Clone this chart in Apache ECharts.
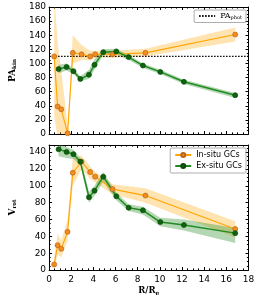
<!DOCTYPE html>
<html><head><meta charset="utf-8">
<script src="https://cdn.jsdelivr.net/npm/echarts@6/dist/echarts.min.js"></script>
<style>html,body{margin:0;padding:0;background:#fff}#c{width:258px;height:297px}</style>
</head><body><div id="c"></div>
<script>
// ---- data ----
const xIn = [0.46, 0.77, 1.1, 1.67, 2.14, 2.93, 3.71, 4.16, 5.73, 8.7, 16.8];
const paIn = [110, 39, 35, 1, 115, 113, 110, 113, 113, 115, 141];
const paInLo = [25, -5, -8, -5, 100, 105, 104, 108, 108, 110, 131];
const paInHi = [200, 130, 90, 12, 140, 126, 118, 118, 118, 121, 151];

const xEx = [0.86, 1.58, 2.2, 2.82, 3.6, 4.1, 4.89, 6.07, 7.18, 8.47, 10.04, 12.17, 16.8];
const paEx = [92, 95, 89, 78, 84, 98, 116, 117, 109, 97, 88, 74, 55];
const paExLo = [86, 90, 85, 75, 78, 91, 112, 113, 105, 94, 85, 71, 51];
const paExHi = [98, 100, 93, 82, 91, 106, 120, 121, 112, 100, 91, 77, 58];

const vIn = [6.6, 29.5, 25.2, 45.3, 115.5, 128.7, 116.3, 110.9, 96.1, 88.4, 48.8];
const vInLo = [0, 18, 15, 35, 100, 120, 108, 104, 90, 80, 39];
const vInHi = [15, 43, 35, 60, 133, 136, 123, 117, 102, 97, 58];

const vEx = [143.4, 140.3, 137.6, 128.7, 86.4, 94.2, 110.9, 87.6, 74, 70.9, 57, 53.5, 43.8];
const vExLo = [135, 133, 132, 125, 80, 88, 105, 83, 70, 66, 52, 47, 32];
const vExHi = [150, 146, 143, 133, 93, 100, 116, 92, 78, 75, 62, 60, 50];

const paPhot = 110;
const xRange = [0, 18];
const paRange = [0, 180];
const vRange = [0, 148.5];

// ---- helpers ----
const pairs = (xs, ys) => xs.map((x, i) => [x, ys[i]]);
const ORANGE = '#FFA500', GREEN = '#228B22';
const FONT = 'DejaVu Sans';

function band(name, g, xs, lo, hi, color) {
  return {
    name: name, type: 'custom', xAxisIndex: g * 2, yAxisIndex: g * 2, clip: true, silent: true, z: 1,
    data: xs.map((x, i) => [x, lo[i], hi[i]]),
    encode: { x: 0, y: [1, 2] },
    renderItem: function (params, api) {
      if (params.dataIndexInside !== 0) return null;
      const n = params.dataInsideLength;
      const up = [], dn = [];
      for (let i = 0; i < n; i++) {
        const x = api.value(0, i);
        up.push(api.coord([x, api.value(2, i)]));
        dn.push(api.coord([x, api.value(1, i)]));
      }
      const cs = params.coordSys;
      return {
        type: 'polygon',
        shape: { points: up.concat(dn.reverse()) },
        style: { fill: color, stroke: null },
        clipPath: { type: 'rect', shape: { x: cs.x, y: cs.y, width: cs.width, height: cs.height } }
      };
    }
  };
}
function line(name, g, xs, ys, color, mcolor, mborder, w) {
  return { name: name, type: 'line', xAxisIndex: g * 2, yAxisIndex: g * 2, data: pairs(xs, ys),
    symbol: 'circle', symbolSize: 5, lineStyle: { color: color, width: w },
    itemStyle: { color: mcolor, borderColor: mborder, borderWidth: 0.7 }, z: 3 };
}
function xAx(g, pos, labels) {
  return { type: 'value', gridIndex: g, position: pos, min: xRange[0], max: xRange[1], interval: 2,
    axisLine: { lineStyle: { color: '#000', width: 1 }, onZero: false },
    axisTick: { inside: true, length: 3, lineStyle: { color: '#000' } },
    minorTick: { show: true, splitNumber: 4, length: 1.6, lineStyle: { color: '#000' } },
    splitLine: { show: false },
    axisLabel: { show: labels, color: '#000', fontFamily: FONT, fontSize: 9, margin: 5 },
    name: labels ? '{b|R/R}{s|e}' : '', nameLocation: 'middle', nameGap: 15,
    nameTextStyle: { rich: { b: { fontFamily: 'DejaVu Serif', fontWeight: 'bold', fontSize: 8.5, color: '#000' },
      s: { fontFamily: 'DejaVu Serif', fontWeight: 'bold', fontSize: 6, color: '#000', padding: [5, 0, 0, 0] } } } };
}
function yAx(g, pos, range, labels, nm) {
  return { type: 'value', gridIndex: g, position: pos, min: range[0], max: range[1], interval: 20,
    axisLine: { show: true, lineStyle: { color: '#000', width: 1 }, onZero: false },
    axisTick: { inside: true, length: 3, lineStyle: { color: '#000' } },
    minorTick: { show: true, splitNumber: 4, length: 1.6, lineStyle: { color: '#000' } },
    splitLine: { show: false },
    axisLabel: { show: labels, color: '#000', fontFamily: FONT, fontSize: 9, margin: 3, showMaxLabel: range[1] % 20 === 0 },
    name: nm, nameLocation: 'middle', nameGap: 22, nameRotate: 90,
    nameTextStyle: { rich: { b: { fontFamily: 'DejaVu Serif', fontWeight: 'bold', fontSize: 9, color: '#000' },
      s: { fontFamily: 'DejaVu Serif', fontWeight: 'bold', fontSize: 5.5, color: '#000', padding: [5, 0, 0, 0] } } } };
}

const chart = echarts.init(document.getElementById('c'), null, { renderer: 'canvas' });
chart.setOption({
  animation: false,
  backgroundColor: '#fff',
  grid: [
    { left: 34.5, right: 9.5, top: 7, height: 127 },
    { left: 34.5, right: 9.5, top: 145, height: 127.5 }
  ],
  xAxis: [xAx(0, 'bottom', false), xAx(0, 'top', false), xAx(1, 'bottom', true), xAx(1, 'top', false)],
  yAxis: [yAx(0, 'left', paRange, true, '{b|PA}{s|kin}'), yAx(0, 'right', paRange, false, ''),
          yAx(1, 'left', vRange, true, '{b|V}{s|rot}'), yAx(1, 'right', vRange, false, '')],
  legend: [
    { data: ['PA_phot'], right: 12, top: 10, orient: 'vertical', itemWidth: 16, itemHeight: 6, itemGap: 2,
      padding: [2, 4, 2, 4], borderColor: '#999', borderWidth: 0.8, borderRadius: 1,
      formatter: () => '{a|PA}{s|phot}',
      textStyle: { rich: { a: { fontFamily: 'DejaVu Serif', fontSize: 8, color: '#000' },
        s: { fontFamily: 'DejaVu Serif', fontSize: 5, color: '#000', padding: [4, 0, 0, 0] } } } },
    { data: ['In-situ GCs', 'Ex-situ GCs'], right: 12, top: 148, orient: 'vertical', itemWidth: 16, itemHeight: 5, itemGap: 3,
      padding: [3, 4, 3, 4], borderColor: '#999', borderWidth: 0.8, borderRadius: 1,
      textStyle: { fontFamily: FONT, fontSize: 8, color: '#000' } }
  ],
  series: [
    band('bandPaIn', 0, xIn, paInLo, paInHi, 'rgba(255,165,0,0.3)'),
    band('bandPaEx', 0, xEx, paExLo, paExHi, 'rgba(34,139,34,0.35)'),
    { name: 'PA_phot', type: 'line', xAxisIndex: 0, yAxisIndex: 0, data: [[xRange[0], paPhot], [xRange[1], paPhot]],
      symbol: 'none', lineStyle: { color: '#000', width: 1.2, type: [1.5, 1.5] },
      itemStyle: { color: 'rgba(0,0,0,0)', borderColor: 'rgba(0,0,0,0)' }, z: 2 },
    line('In-situ GCs', 0, xIn, paIn, ORANGE, '#F28C1E', '#B8651A', 1.1),
    line('Ex-situ GCs', 0, xEx, paEx, GREEN, '#0E640E', '#0A4A0A', 1.5),
    band('bandVIn', 1, xIn, vInLo, vInHi, 'rgba(255,165,0,0.3)'),
    band('bandVEx', 1, xEx, vExLo, vExHi, 'rgba(34,139,34,0.35)'),
    line('In-situ GCs', 1, xIn, vIn, ORANGE, '#F28C1E', '#B8651A', 1.1),
    line('Ex-situ GCs', 1, xEx, vEx, GREEN, '#0E640E', '#0A4A0A', 1.5)
  ]
});
</script></body></html>
